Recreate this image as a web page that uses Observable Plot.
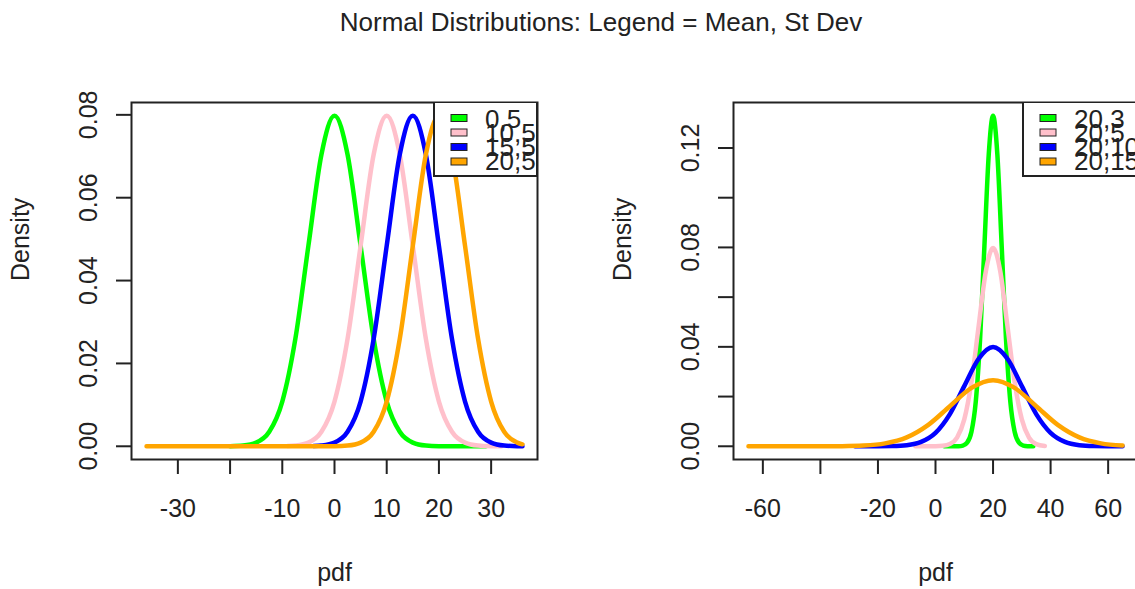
<!DOCTYPE html>
<html><head><meta charset="utf-8">
<script src="https://cdn.jsdelivr.net/npm/d3@7"></script>
<script src="https://cdn.jsdelivr.net/npm/@observablehq/plot@0.6"></script>
<style>
html,body{margin:0;padding:0;background:#fff;width:1135px;height:589px;overflow:hidden;position:relative;font-family:"Liberation Sans",Arial,sans-serif}
#title{position:absolute;top:2px;left:601px;transform:translateX(-50%);white-space:nowrap;font-size:26px;line-height:40px;color:#222}
#left,#right{position:absolute;top:40px}
#left{left:0}
#right{left:567px}
#left svg,#right svg{max-width:none}
</style></head><body>
<div id="title">Normal Distributions: Legend = Mean, St Dev</div>
<div id="left"></div><div id="right"></div>
<script>
// ---- Data ----
const seriesColors = ["#00FF00", "#FFC0CB", "#0000FF", "#FFA500"];

// Left panel: legend labels (mean,sd)
const leftLabels = ["0,5", "10,5", "15,5", "20,5"];
const leftGreenX = [-20,-17.5,-15,-12.5,-10,-7.5,-5,-2.5,0,2.5,5,7.5,10,12.5,15,17.5,20,22.5,25,29];
const leftGreenY = [0.0000268,0.000175,0.000886,0.003506,0.010798,0.025904,0.048394,0.070413,0.079788,0.070413,0.048394,0.025904,0.010798,0.003506,0.000886,0.000175,0.0000268,0.0000032,0.0000003,0];
const leftPinkX = [-9,-7.5,-5,-2.5,0,2.5,5,7.5,10,12.5,15,17.5,20,22.5,25,27.5,30,32];
const leftPinkY = [0.0000584,0.000175,0.000886,0.003506,0.010798,0.025904,0.048394,0.070413,0.079788,0.070413,0.048394,0.025904,0.010798,0.003506,0.000886,0.000175,0.0000268,0.000003];
const leftBlueX = [-4,-2.5,0,2.5,5,7.5,10,12.5,15,17.5,20,22.5,25,27.5,30,32.5,35,36];
const leftBlueY = [0.0000584,0.000175,0.000886,0.003506,0.010798,0.025904,0.048394,0.070413,0.079788,0.070413,0.048394,0.025904,0.010798,0.003506,0.000886,0.000175,0.0000268,0.0000118];
const leftOrangeX = [-36,-2.5,0,2.5,5,7.5,10,12.5,15,17.5,20,22.5,25,27.5,30,32.5,35,36];
const leftOrangeY = [0,0.0000032,0.0000268,0.000175,0.000886,0.003506,0.010798,0.025904,0.048394,0.070413,0.079788,0.070413,0.048394,0.025904,0.010798,0.003506,0.000886,0.000477];

// Right panel
const rightLabels = ["20,3", "20,5", "20,10", "20,15"];
const rightGreenX = [3,8,9.5,11,12.5,14,15.5,17,18.5,20,21.5,23,24.5,26,27.5,29,30.5,32,34];
const rightGreenY = [0,0.0000447,0.000291,0.001477,0.005843,0.017997,0.043173,0.080657,0.117355,0.132981,0.117355,0.080657,0.043173,0.017997,0.005843,0.001477,0.000291,0.0000447,0.0000024];
const rightPinkX = [-7,-2.5,0,2.5,5,7.5,10,12.5,15,17.5,20,22.5,25,27.5,30,32.5,35,38];
const rightPinkY = [0,0.0000032,0.0000268,0.000175,0.000886,0.003506,0.010798,0.025904,0.048394,0.070413,0.079788,0.070413,0.048394,0.025904,0.010798,0.003506,0.000886,0.000122];
const rightBlueX = [-28,-25,-20,-15,-10,-5,0,5,10,15,20,25,30,35,40,45,50,55,60,65];
const rightBlueY = [0.0000004,0.0000016,0.0000134,0.0000873,0.000443,0.001753,0.005399,0.012952,0.024197,0.035207,0.039894,0.035207,0.024197,0.012952,0.005399,0.001753,0.000443,0.0000873,0.0000134,0.0000016];
const rightOrangeX = [-65,-55,-47.5,-40,-32.5,-25,-17.5,-10,-2.5,5,12.5,20,27.5,35,42.5,50,57.5,65];
const rightOrangeY = [0,0.0000001,0.0000011,0.0000089,0.0000582,0.000295,0.001169,0.003599,0.008635,0.016131,0.023471,0.026596,0.023471,0.016131,0.008635,0.003599,0.001169,0.000295];

// Ticks
const leftXTicks = [-30,-20,-10,0,10,20,30];
const leftXTickLabels = ["-30","","-10","0","10","20","30"];
const leftYTicks = [0,0.02,0.04,0.06,0.08];
const leftYTickLabels = ["0.00","0.02","0.04","0.06","0.08"];
const rightXTicks = [-60,-40,-20,0,20,40,60];
const rightXTickLabels = ["-60","","-20","0","20","40","60"];
const rightYTicks = [0,0.02,0.04,0.06,0.08,0.10,0.12];
const rightYTickLabels = ["0.00","","0.04","","0.08","","0.12"];

const xLabel = "pdf";
const yLabel = "Density";

// ---- Drawing ----
const FONT = "'Liberation Sans', Arial, sans-serif";
const INK = "#222";

function fmt(ticks, labels) {
  return v => { const i = ticks.indexOf(v); return i >= 0 ? labels[i] : ""; };
}

function makePanel(o) {
  const lines = o.series.map((s, k) => Plot.line(
    s[0].map((x, i) => ({x, y: s[1][i]})),
    {x: "x", y: "y", stroke: seriesColors[k], strokeWidth: 4.5, curve: "monotone-x", strokeLinejoin: "round", strokeLinecap: "round"}
  ));
  const legend = (index, scales, values, dim) => {
    const right = dim.width - dim.marginRight, top = dim.marginTop;
    const bottom = dim.height - dim.marginBottom, left = dim.marginLeft;
    const g = d3.create("svg:g");
    g.append("clipPath").attr("id", o.clipId).append("rect")
      .attr("x", left).attr("y", top).attr("width", right - left).attr("height", bottom - top);
    const lg = g.append("g").attr("clip-path", `url(#${o.clipId})`);
    const bx = right - o.legendWidth;
    lg.append("rect").attr("x", bx).attr("y", top).attr("width", o.legendWidth).attr("height", 74)
      .attr("fill", "white").attr("stroke", INK).attr("stroke-width", 2);
    o.labels.forEach((t, i) => {
      lg.append("rect").attr("x", bx + 17).attr("y", top + 16 + i * 14.5 - 3.5).attr("width", 16).attr("height", 7)
        .attr("fill", seriesColors[i]).attr("stroke", INK).attr("stroke-width", 1);
      lg.append("text").attr("x", bx + 51).attr("y", top + 26 + i * 14)
        .attr("text-anchor", "start")
        .attr("font-size", 26).attr("font-family", FONT).attr("fill", INK).text(t);
    });
    return g.node();
  };
  return Plot.plot({
    width: o.width, height: 549,
    marginLeft: o.marginLeft, marginRight: o.marginRight, marginTop: 62, marginBottom: 130,
    style: {background: "white", fontFamily: FONT, fontSize: "25px", color: INK},
    x: {domain: o.xDomain},
    y: {domain: o.yDomain},
    marks: [
      ...lines,
      Plot.frame({stroke: INK, strokeWidth: 2}),
      Plot.axisX({ticks: o.xTicks, tickFormat: fmt(o.xTicks, o.xTickLabels), tickSize: 15, tickPadding: 25, fontSize: 25, strokeWidth: 2, label: null}),
      Plot.axisY({ticks: o.yTicks, tickFormat: fmt(o.yTicks, o.yTickLabels), tickSize: 15, tickPadding: 20, tickRotate: -90, fontSize: 25, strokeWidth: 2, label: null}),
      Plot.text([yLabel], {frameAnchor: "left", rotate: -90, dx: -103, lineAnchor: "bottom", fontSize: 25, fill: INK, text: d => d}),
      Plot.text([xLabel], {frameAnchor: "bottom", dy: 121, lineAnchor: "bottom", fontSize: 25, fill: INK, text: d => d}),
      legend
    ]
  });
}

document.getElementById("left").append(makePanel({
  series: [[leftGreenX, leftGreenY], [leftPinkX, leftPinkY], [leftBlueX, leftBlueY], [leftOrangeX, leftOrangeY]],
  labels: leftLabels,
  xDomain: [-38.88, 38.88], yDomain: [-0.00319, 0.08298],
  xTicks: leftXTicks, xTickLabels: leftXTickLabels, yTicks: leftYTicks, yTickLabels: leftYTickLabels,
  width: 567, marginLeft: 131, marginRight: 30, legendWidth: 103, clipId: "clipL"
}));
document.getElementById("right").append(makePanel({
  series: [[rightGreenX, rightGreenY], [rightPinkX, rightPinkY], [rightBlueX, rightBlueY], [rightOrangeX, rightOrangeY]],
  labels: rightLabels,
  xDomain: [-70.2, 70.2], yDomain: [-0.00532, 0.1383],
  xTicks: rightXTicks, xTickLabels: rightXTickLabels, yTicks: rightYTicks, yTickLabels: rightYTickLabels,
  width: 571, marginLeft: 166, marginRight: 1, legendWidth: 114, clipId: "clipR"
}));
</script>
</body></html>
